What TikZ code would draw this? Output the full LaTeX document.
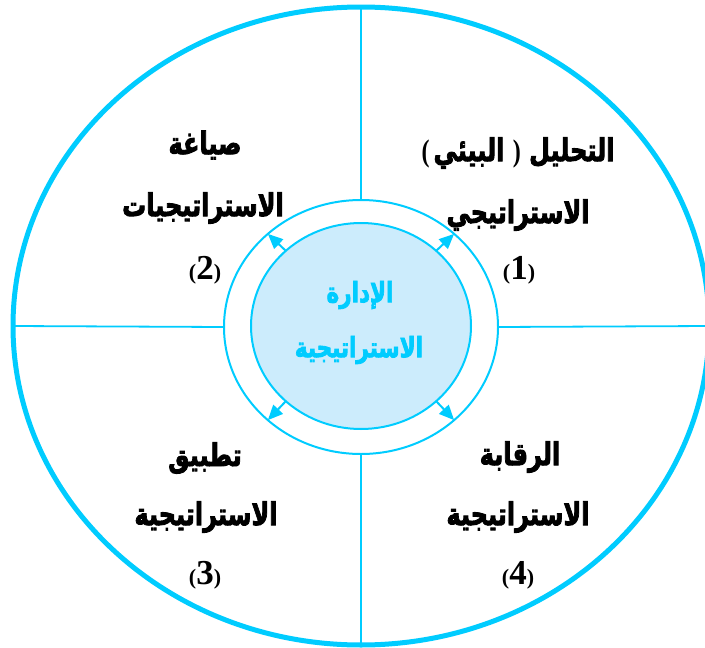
\documentclass[tikz,border=0pt]{standalone}
\usepackage{fontspec}
\usepackage{graphicx}
\usetikzlibrary{shapes.geometric,arrows.meta}
\TeXXeTstate=1
\newfontfamily\arabicfont[Script=Arabic,FakeBold=3]{DejaVu Sans Bold}
\newfontfamily\numfont{Liberation Serif}
\definecolor{cyanline}{RGB}{0,204,255}
\definecolor{cyanfill}{RGB}{204,236,252}
\newcommand{\numlbl}[1]{{\numfont\bfseries\fontsize{22}{22}\selectfont(\fontsize{35}{35}\selectfont #1\fontsize{22}{22}\selectfont)}}
\newcommand{\pr}[1]{{\numfont\bfseries #1}}
\newcommand{\ar}[1]{\scalebox{1}[1.3]{\beginR #1\endR}}
\begin{document}
\begin{tikzpicture}[x=1pt,y=-1pt,
  ring/.style={ellipse,draw=cyanline,inner sep=0pt,outer sep=0pt},
  link/.style={draw=cyanline,line width=1.8pt},
  arr/.style={draw=cyanline,line width=2pt,-{Triangle[length=15pt,width=13pt]},fill=cyanline},
  lbl/.style={font=\arabicfont\fontsize{24}{28}\selectfont,inner sep=0pt},
  clbl/.style={font=\arabicfont\fontsize{21.5}{25}\selectfont,text=cyanline,inner sep=0pt},
  nlbl/.style={inner sep=0pt}]
\useasboundingbox (0,0) rectangle (705,648);
\fill[white] (0,0) rectangle (705,648);
\node[ring,line width=5pt,minimum width=696pt,minimum height=638pt] (outer) at (361,326) {};
\node[ring,line width=2pt,minimum width=274pt,minimum height=254pt] (mid) at (361,327) {};
\node[ring,line width=2pt,fill=cyanfill,minimum width=220pt,minimum height=206pt] (inner) at (361,326) {};
\draw[link] (outer.north) -- (mid.north);
\draw[link] (mid.south) -- (outer.south);
\draw[link] (outer.west) -- (mid.west);
\draw[link] (mid.east) -- (outer.east);
\draw[arr] (inner.45) -- (mid.45);
\draw[arr] (inner.135) -- (mid.135);
\draw[arr] (inner.225) -- (mid.225);
\draw[arr] (inner.315) -- (mid.315);
% centre
\node[clbl] (c1) at (360,295) {\ar{الإدارة}};
\node[clbl] (c2) at (359,350) {\ar{الاستراتيجية}};
% quadrant 1
\node[lbl] (q1a) at (518,153) {\scalebox{1}[1.3]{\pr{(}\,\beginR البيئي\endR\ \pr{)}\ \beginR التحليل\endR}};
\node[lbl] (q1b) at (518,215) {\ar{الاستراتيجي}};
\node[nlbl] (q1n) at (519,270) {\numlbl{1}};
% quadrant 2
\node[lbl] (q2a) at (205,145) {\ar{صياغة}};
\node[lbl] (q2b) at (203,208) {\ar{الاستراتيجيات}};
\node[nlbl] (q2n) at (205,270) {\numlbl{2}};
% quadrant 3
\node[lbl] (q3a) at (205,458) {\ar{تطبيق}};
\node[lbl] (q3b) at (206,517) {\ar{الاستراتيجية}};
\node[nlbl] (q3n) at (205,575) {\numlbl{3}};
% quadrant 4
\node[lbl] (q4a) at (520,457) {\ar{الرقابة}};
\node[lbl] (q4b) at (518,517) {\ar{الاستراتيجية}};
\node[nlbl] (q4n) at (518,575) {\numlbl{4}};
\end{tikzpicture}
\end{document}
